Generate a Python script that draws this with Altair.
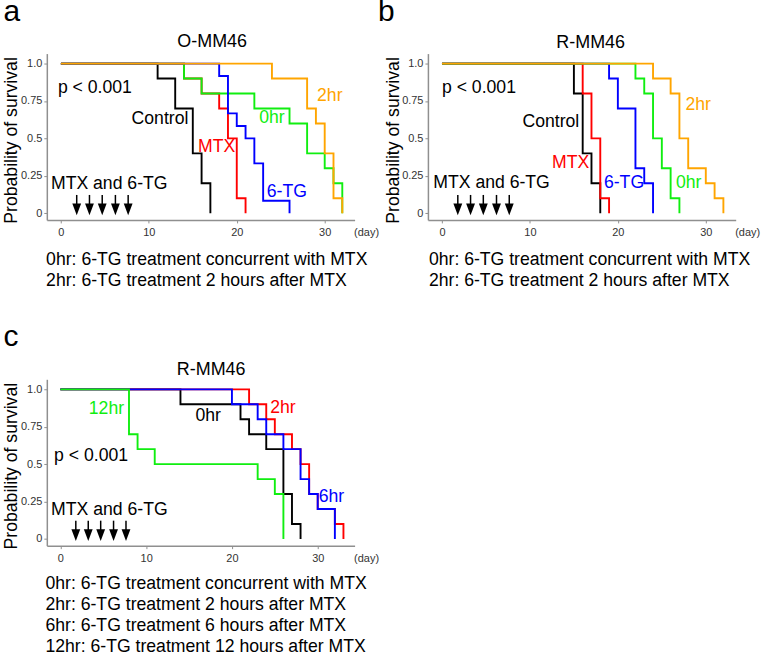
import altair as alt
import pandas as pd

FONT = "Liberation Sans"
TXT = 17.7
AXIS_GRAY = "#8f8f8f"
LABEL_GRAY = "#333333"

BLACK = "#000000"
RED = "#ff0000"
BLUE = "#0000ff"
GREEN = "#10ee10"
ORANGE = "#ffa500"

# ---- Kaplan-Meier steps: event day and survival fraction after it ----
# a) O-MM46
a_control_day = [0, 11, 13, 15, 16, 17]
a_control_surv = [1.0, 0.9, 0.7, 0.4, 0.2, 0.0]
a_mtx_day = [0, 14, 16, 18, 19, 20, 21]
a_mtx_surv = [1.0, 0.9, 0.8, 0.7, 0.5, 0.1, 0.0]
a_6tg_day = [0, 18, 19, 20, 21, 22, 23, 26]
a_6tg_surv = [1.0, 0.917, 0.667, 0.583, 0.5, 0.333, 0.083, 0.0]
a_0hr_day = [0, 14, 16, 22, 26, 28, 30, 31, 32]
a_0hr_surv = [1.0, 0.9, 0.8, 0.7, 0.6, 0.4, 0.3, 0.2, 0.0]
a_2hr_day = [0, 24, 28, 29, 30, 31, 32]
a_2hr_surv = [1.0, 0.9, 0.7, 0.6, 0.4, 0.1, 0.0]

# b) R-MM46
b_control_day = [0, 15, 16, 17, 18]
b_control_surv = [1.0, 0.8, 0.4, 0.2, 0.0]
b_mtx_day = [0, 16, 17, 18, 19]
b_mtx_surv = [1.0, 0.8, 0.5, 0.1, 0.0]
b_6tg_day = [0, 19, 20, 22, 23, 24]
b_6tg_surv = [1.0, 0.9, 0.7, 0.3, 0.2, 0.0]
b_0hr_day = [0, 22, 23, 24, 25, 26, 27]
b_0hr_surv = [1.0, 0.9, 0.8, 0.5, 0.3, 0.1, 0.0]
b_2hr_day = [0, 24, 26, 27, 28, 30, 31, 32]
b_2hr_surv = [1.0, 0.9, 0.8, 0.5, 0.3, 0.2, 0.1, 0.0]

# c) R-MM46, timing of 6-TG after MTX
c_0hr_day = [0, 14, 21, 22, 24, 26, 27, 28]
c_0hr_surv = [1.0, 0.9, 0.8, 0.7, 0.6, 0.3, 0.1, 0.0]
c_2hr_day = [0, 22, 24, 25, 27, 28, 29, 30, 32, 33]
c_2hr_surv = [1.0, 0.9, 0.8, 0.7, 0.6, 0.5, 0.3, 0.2, 0.1, 0.0]
c_6hr_day = [0, 20, 23, 24, 26, 28, 29, 30, 32]
c_6hr_surv = [1.0, 0.9, 0.8, 0.7, 0.6, 0.4, 0.3, 0.2, 0.0]
c_12hr_day = [0, 8, 9, 11, 23, 25, 26]
c_12hr_surv = [1.0, 0.7, 0.6, 0.5, 0.4, 0.3, 0.0]

# dosing days of MTX and 6-TG
dose_days = [1.8, 3.25, 4.7, 6.2, 7.65]

x_ticks = [0, 10, 20, 30]
y_ticks = [0, 0.25, 0.5, 0.75, 1.0]

# curve label anchors (day, survival)
a_label_text = ["Control", "MTX", "6-TG", "0hr", "2hr"]
a_label_day = [11.27, 17.72, 25.7, 24.0, 30.58]
a_label_surv = [0.629, 0.442, 0.142, 0.635, 0.782]
a_label_color = [BLACK, RED, BLUE, GREEN, ORANGE]

b_label_text = ["Control", "MTX", "6-TG", "0hr", "2hr"]
b_label_day = [12.38, 14.64, 20.7, 28.06, 29.14]
b_label_surv = [0.609, 0.335, 0.202, 0.202, 0.722]
b_label_color = [BLACK, RED, BLUE, GREEN, ORANGE]

c_label_text = ["12hr", "0hr", "2hr", "6hr"]
c_label_day = [5.37, 17.23, 25.95, 31.6]
c_label_surv = [0.869, 0.822, 0.875, 0.277]
c_label_color = [GREEN, BLACK, RED, BLUE]

W, H = 309, 167
Y_DOMAIN = [-0.045, 1.067]
ONE_ROW = alt.Data(values=[{}])


def encodings(x_domain):
    x = alt.X(
        "day:Q",
        scale=alt.Scale(domain=x_domain, nice=False, zero=False),
        axis=alt.Axis(
            values=x_ticks, format="d", title=None, grid=False,
            domainColor=AXIS_GRAY, domainWidth=1.5, tickColor=AXIS_GRAY,
            tickSize=3, tickWidth=1, labelFont=FONT, labelFontSize=11,
            labelColor=LABEL_GRAY, labelPadding=4,
        ),
    )
    y = alt.Y(
        "surv:Q",
        scale=alt.Scale(domain=Y_DOMAIN, nice=False, zero=False),
        axis=alt.Axis(
            values=y_ticks, grid=False,
            labelExpr="datum.value == 1 ? '1.0' : toString(datum.value)",
            domainColor=AXIS_GRAY, domainWidth=1.5, tickColor=AXIS_GRAY,
            tickSize=3, tickWidth=1, labelFont=FONT, labelFontSize=11,
            labelColor=LABEL_GRAY, labelPadding=2,
            title="Probability of survival", titleFont=FONT,
            titleFontSize=TXT, titleFontWeight="normal", titleColor=BLACK,
            titleAngle=270, titleAlign="center", titleBaseline="middle",
            titleX=-35, titleY=86.7,
        ),
    )
    return x, y


def curve(days, surv, color, x, y):
    df = pd.DataFrame({"day": days, "surv": surv})
    return alt.Chart(df).mark_line(
        interpolate="step-after", color=color, strokeWidth=1.9
    ).encode(x=x, y=y)


def curve_labels(text, days, surv, colors, x, y):
    df = pd.DataFrame({"day": days, "surv": surv, "label": text, "col": colors})
    return alt.Chart(df).mark_text(
        font=FONT, fontSize=TXT, align="center", baseline="middle"
    ).encode(x=x, y=y, text="label:N", color=alt.Color("col:N", scale=None))


def anchored_text(text, day, surv, x, y):
    df = pd.DataFrame({"day": [day], "surv": [surv], "label": [text]})
    return alt.Chart(df).mark_text(
        font=FONT, fontSize=TXT, align="left", baseline="middle", color=BLACK
    ).encode(x=x, y=y, text="label:N")


def dosing_arrows(x, y):
    shafts = pd.DataFrame({"day": dose_days, "surv": [0.122] * len(dose_days),
                           "surv2": [0.05] * len(dose_days)})
    heads = pd.DataFrame({"day": dose_days, "surv": [0.025] * len(dose_days)})
    rule = alt.Chart(shafts).mark_rule(color=BLACK, strokeWidth=1.5).encode(
        x=x, y=y, y2="surv2:Q")
    tip = alt.Chart(heads).mark_point(
        shape="M-0.75,-1L0.75,-1L0,1Z", size=140, filled=True,
        color=BLACK, opacity=1, strokeWidth=0,
    ).encode(x=x, y=y)
    return [rule, tip]


def note(text, px, py, size=TXT, color=BLACK, align="left", baseline="alphabetic"):
    return alt.Chart(ONE_ROW).mark_text(
        text=text, font=FONT, fontSize=size, color=color,
        align=align, baseline=baseline,
    ).encode(x=alt.value(px), y=alt.value(py))


def panel(letter, letter_x, letter_y, title, title_x, title_y, x_domain,
          curves, labels, p_pos, mtx_pos, desc, desc_x, desc_y0, desc_step):
    x, y = encodings(x_domain)
    layers = [curve(d, s, c, x, y) for d, s, c in curves]
    layers.append(curve_labels(*labels, x, y))
    layers.append(anchored_text("p < 0.001", p_pos[0], p_pos[1], x, y))
    layers.append(anchored_text("MTX and 6-TG", mtx_pos[0], mtx_pos[1], x, y))
    layers += dosing_arrows(x, y)
    layers.append(note(letter, letter_x, letter_y, size=30))
    layers.append(note(title, title_x, title_y, size=18, align="center", baseline="middle"))
    layers.append(note("(day)", W - 0.5, H + 13, size=11, color=LABEL_GRAY, baseline="middle"))
    for i, line in enumerate(desc):
        layers.append(note(line, desc_x, desc_y0 + i * desc_step))
    return alt.layer(*layers).properties(width=W, height=H)


panel_a = panel(
    "a", -43.5, -32.6, "O-MM46", 166, -11.5, [-1.6, 33.4],
    [(a_control_day, a_control_surv, BLACK), (a_mtx_day, a_mtx_surv, RED),
     (a_0hr_day, a_0hr_surv, GREEN), (a_6tg_day, a_6tg_surv, BLUE),
     (a_2hr_day, a_2hr_surv, ORANGE)],
    (a_label_text, a_label_day, a_label_surv, a_label_color),
    (-0.34, 0.835), (-1.13, 0.195),
    ["0hr: 6-TG treatment concurrent with MTX",
     "2hr: 6-TG treatment 2 hours after MTX"],
    -0.7, H + 45.3, 21.5,
)

panel_b = panel(
    "b", -50, -32.6, "R-MM46", 163.4, -11, [-1.6, 33.4],
    [(b_control_day, b_control_surv, BLACK), (b_mtx_day, b_mtx_surv, RED),
     (b_6tg_day, b_6tg_surv, BLUE), (b_0hr_day, b_0hr_surv, GREEN),
     (b_2hr_day, b_2hr_surv, ORANGE)],
    (b_label_text, b_label_day, b_label_surv, b_label_color),
    (0.0, 0.835), (-0.99, 0.202),
    ["0hr: 6-TG treatment concurrent with MTX",
     "2hr: 6-TG treatment 2 hours after MTX"],
    1.0, H + 45.3, 21.5,
)

panel_c = panel(
    "c", -43.6, -33.3, "R-MM46", 165, -9, [-1.58, 34.3],
    [(c_0hr_day, c_0hr_surv, BLACK), (c_2hr_day, c_2hr_surv, RED),
     (c_6hr_day, c_6hr_surv, BLUE), (c_12hr_day, c_12hr_surv, GREEN)],
    (c_label_text, c_label_day, c_label_surv, c_label_color),
    (-0.73, 0.555), (-1.08, 0.195),
    ["0hr: 6-TG treatment concurrent with MTX",
     "2hr: 6-TG treatment 2 hours after MTX",
     "6hr: 6-TG treatment 6 hours after MTX",
     "12hr: 6-TG treatment 12 hours after MTX"],
    -1.4, H + 43.8, 21.0,
)

chart = alt.concat(
    panel_a, panel_b, panel_c,
    columns=2,
    spacing={"row": 160, "column": 73.6},
    bounds="flush",
).properties(
    padding={"left": 2, "top": -4.5, "right": 0, "bottom": 0},
    background="white",
).configure_view(stroke=None)

chart.save("out.html", embed_options={"renderer": "svg", "actions": False})
